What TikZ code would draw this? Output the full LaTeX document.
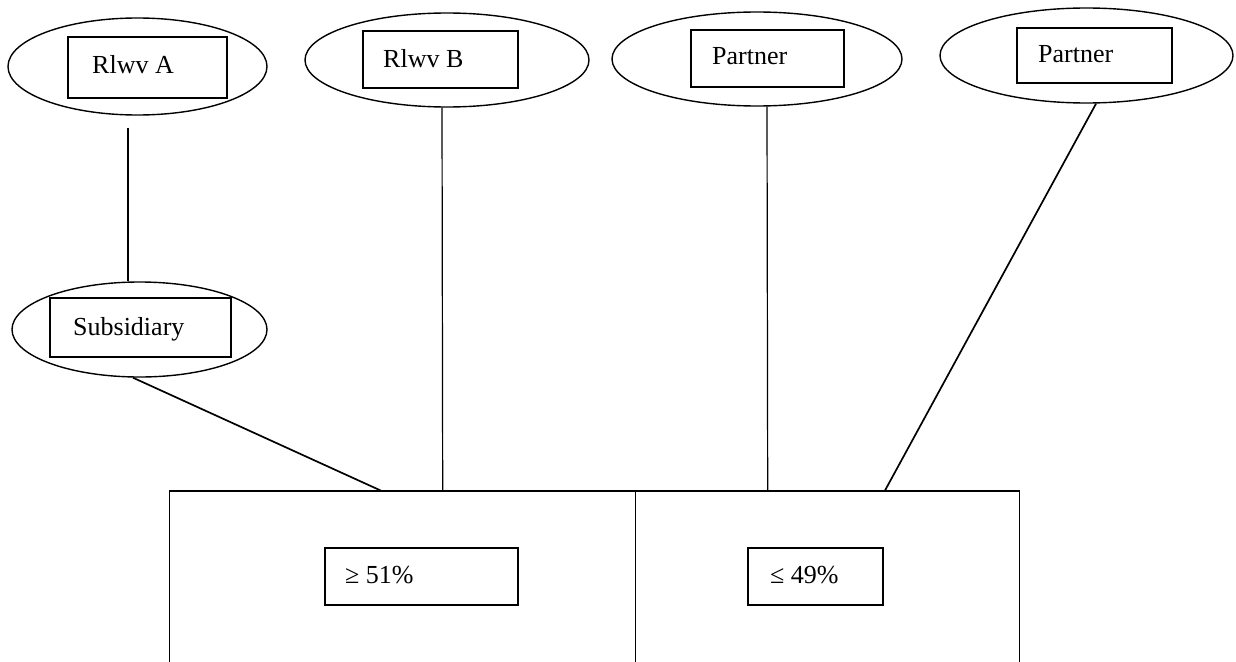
\documentclass[tikz,border=0pt]{standalone}
\usepackage{fontspec}
\setmainfont{Liberation Serif}
\usetikzlibrary{shapes.geometric}

\tikzset{
  oval/.style={draw, ellipse, inner sep=0pt, line width=1.4pt},
  namebox/.style={draw, rectangle, inner sep=0pt, line width=1.6pt},
  label text/.style={anchor=base west, inner sep=0pt, font=\fontsize{26}{30}\selectfont},
  link/.style={line width=1.2pt},
  slant link/.style={line width=1.7pt},
  share/.style={draw, rectangle, inner sep=0pt, line width=1.4pt}
}

\begin{document}
\begin{tikzpicture}[x=1pt, y=-1pt]
\useasboundingbox (0,0) rectangle (1236,661);
\clip (0,0) rectangle (1236,661);
\fill[white] (0,0) rectangle (1236,661);

% owners along the top
\node[oval, minimum width=259, minimum height=97] (ellA) at (137.5,66.5) {};
\node[namebox, minimum width=159, minimum height=61] (boxA) at (147.5,67.5) {};
\node[label text] (txtA) at (92,74) {Rlwv A};

\node[oval, minimum width=284, minimum height=94] (ellB) at (447,60) {};
\node[namebox, minimum width=155, minimum height=57] (boxB) at (440.5,59.5) {};
\node[label text] (txtB) at (383,67) {Rlwv B};

\node[oval, minimum width=290, minimum height=94] (ellP) at (757,59) {};
\node[namebox, minimum width=153, minimum height=57] (boxP) at (767.5,58.5) {};
\node[label text] (txtP) at (712,65) {Partner};

\node[oval, minimum width=293, minimum height=95] (ellQ) at (1086.5,55.5) {};
\node[namebox, minimum width=155, minimum height=55] (boxQ) at (1094.5,55.5) {};
\node[label text] (txtQ) at (1038,63) {Partner};

% subsidiary of A
\node[oval, minimum width=255, minimum height=95] (ellS) at (139.5,329.5) {};
\node[namebox, minimum width=181, minimum height=59] (boxS) at (140.5,327.5) {};
\node[label text] (txtS) at (73,335) {Subsidiary};

% joint venture split into two shares
\node[share, minimum width=466, minimum height=230, anchor=north west] (jvL) at (169,491) {};
\node[share, minimum width=384, minimum height=230, anchor=north west] (jvR) at (635,491) {};
\draw[line width=2pt] (jvL.north west) -- (jvR.north east);
\node[namebox, minimum width=193, minimum height=57] (boxL) at (421.5,576.5) {};
\node[label text] (txtL) at (345,583) {≥ 51\%};
\node[namebox, minimum width=135, minimum height=57] (boxR) at (815.5,576.5) {};
\node[label text] (txtR) at (770,583) {≤ 49\%};

% ownership links
\draw[link] ([shift={(-9.5,12)}]ellA.south) -- ([shift={(-11.5,0)}]ellS.north);
\draw[slant link] ([shift={(-6.5,0)}]ellS.south) -- ([shift={(-21,0)}]jvL.north);
\draw[link] ([shift={(-5,0)}]ellB.south) -- ([shift={(40,0)}]jvL.north);
\draw[link] ([shift={(10,0)}]ellP.south) -- ([shift={(-60,0)}]jvR.north);
\draw[slant link] ([shift={(9.5,0)}]ellQ.south) -- ([shift={(57,0)}]jvR.north);
\end{tikzpicture}
\end{document}
